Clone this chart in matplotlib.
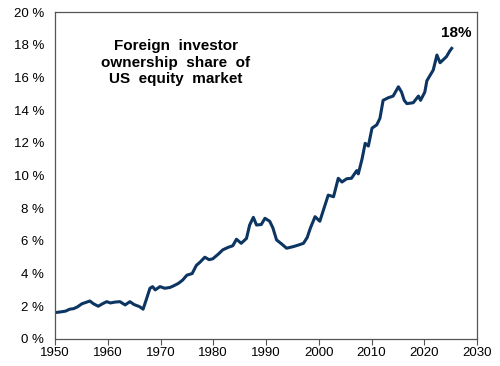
import matplotlib
matplotlib.use("Agg")
import matplotlib.pyplot as plt
from matplotlib.ticker import FuncFormatter

plt.rcParams['font.family'] = ['Liberation Sans', 'DejaVu Sans']

# --- DATA ---
years = [1950.0, 1951.0, 1952.0, 1952.8, 1953.5, 1954.2, 1955.1, 1956.0, 1956.6, 1957.3,
         1958.2, 1959.0, 1959.8, 1960.5, 1961.3, 1962.3, 1963.3, 1964.2, 1965.0, 1966.0,
         1966.7, 1967.3, 1968.0, 1968.5, 1969.0, 1969.9, 1970.8, 1971.8, 1972.5, 1973.4,
         1974.2, 1975.0, 1976.0, 1976.8, 1977.5, 1978.4, 1979.2, 1979.9, 1981.0, 1981.8,
         1982.8, 1983.7, 1984.4, 1985.3, 1986.3, 1986.9, 1987.6, 1988.2, 1989.1, 1989.8,
         1990.7, 1991.3, 1992.0, 1993.0, 1993.9, 1995.2, 1996.2, 1997.1, 1997.8, 1998.4,
         1999.3, 2000.2, 2001.0, 2001.8, 2002.8, 2003.7, 2004.4, 2005.3, 2006.2, 2007.2,
         2007.5, 2008.2, 2008.8, 2009.4, 2010.1, 2011.0, 2011.6, 2012.2, 2013.2, 2014.1,
         2015.1, 2015.7, 2016.2, 2016.7, 2017.9, 2018.9, 2019.3, 2020.1, 2020.5, 2021.7,
         2022.4, 2023.0, 2024.2, 2024.8, 2025.2]
share = [1.61, 1.65, 1.70, 1.82, 1.85, 1.95, 2.15, 2.25, 2.32, 2.15,
         2.00, 2.15, 2.28, 2.20, 2.25, 2.28, 2.08, 2.28, 2.10, 1.98,
         1.82, 2.40, 3.10, 3.20, 3.00, 3.20, 3.10, 3.15, 3.25, 3.40,
         3.60, 3.90, 4.00, 4.50, 4.70, 5.00, 4.85, 4.90, 5.20, 5.45,
         5.60, 5.70, 6.10, 5.85, 6.15, 6.97, 7.44, 6.97, 7.00, 7.38,
         7.20, 6.80, 6.06, 5.80, 5.55, 5.65, 5.75, 5.85, 6.20, 6.77,
         7.48, 7.20, 8.00, 8.80, 8.70, 9.83, 9.60, 9.80, 9.83, 10.30,
         10.10, 11.00, 11.97, 11.80, 12.90, 13.10, 13.50, 14.60, 14.76, 14.86,
         15.43, 15.10, 14.60, 14.40, 14.45, 14.86, 14.60, 15.10, 15.80, 16.45,
         17.37, 16.90, 17.27, 17.60, 17.78]

x_ticks = list(range(1950, 2031, 10))
y_ticks = list(range(0, 21, 2))

fig = plt.figure(figsize=(5.0, 3.66), dpi=100)
ax = fig.add_axes([0.11, 0.074, 0.844, 0.893])

ax.plot(years, share, color='#0d3561', linewidth=2.2, solid_joinstyle='round')

ax.set_xlim(1950, 2030)
ax.set_ylim(0, 20)
ax.set_xticks(x_ticks)
ax.set_yticks(y_ticks)
ax.yaxis.set_major_formatter(FuncFormatter(lambda v, p: f"{int(v)} %"))

ax.tick_params(axis='x', direction='out', length=4, width=0.8, color='#555555',
               labelsize=9.5, pad=2)
ax.tick_params(axis='y', length=0, labelsize=9.5, pad=8)
for s in ax.spines.values():
    s.set_color('#555555')
    s.set_linewidth(0.9)

# annotation text, wide word spacing as in the source
ax.text(0.286, 0.845, "Foreign  investor\nownership  share  of\nUS  equity  market",
        transform=ax.transAxes, ha='center', va='center', fontsize=11,
        fontweight='bold', linespacing=1.24)
ax.text(2026.1, 18.75, "18%", ha='center', va='center',
        fontsize=11, fontweight='bold')

fig.savefig('out.png', dpi=100)
